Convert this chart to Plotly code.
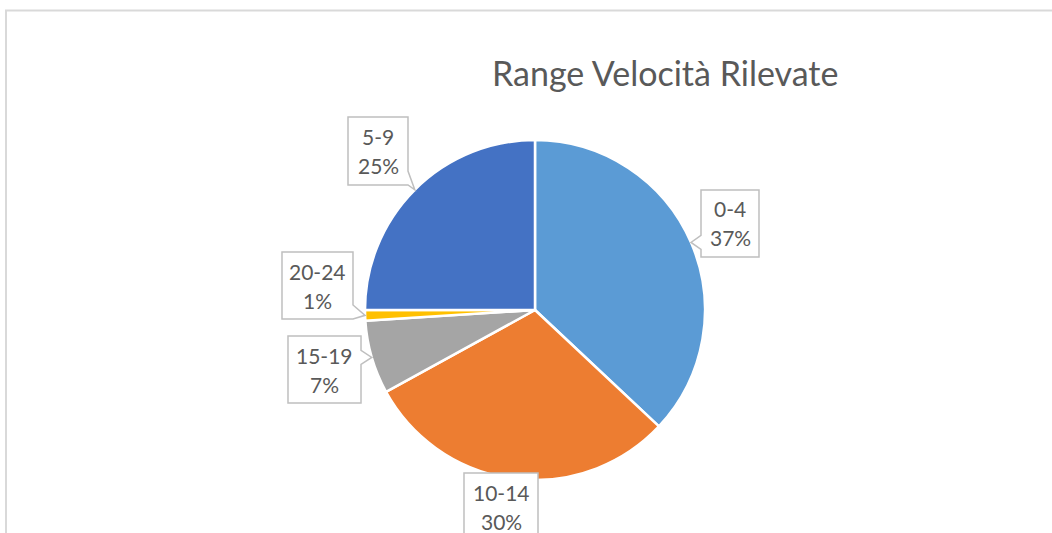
import math
import plotly.graph_objects as go

# Speed ranges and their share of the readings (percent)
categories = ["0-4", "10-14", "15-19", "20-24", "5-9"]
shares = [37, 30, 7, 1, 25]
colors = ["#5B9BD5", "#ED7D31", "#A5A5A5", "#FFC000", "#4472C4"]

title_text = "Range Velocità Rilevate"

W, H = 1052, 533
CX, CY, R = 535, 310, 170  # pie centre / radius in pixels

# callout boxes (pixel rectangles x0, y0, x1, y1) for each category
label_boxes = {
    "0-4": (701, 190, 759, 257),
    "10-14": (464, 473, 538, 541),
    "15-19": (288, 336, 361, 403),
    "20-24": (282, 252, 353, 319),
    "5-9": (348, 117, 408, 185),
}

FONT = "Lato, Open Sans, sans-serif"
TEXT_COLOR = "#595959"


def px(x):
    return x / W


def py(y):
    return 1 - y / H


fig = go.Figure(
    go.Pie(
        labels=categories,
        values=shares,
        sort=False,
        direction="clockwise",
        rotation=0,
        marker=dict(colors=colors, line=dict(color="white", width=2.5)),
        textinfo="none",
        hoverinfo="label+percent",
        domain=dict(x=[px(CX - R), px(CX + R)], y=[py(CY + R), py(CY - R)]),
    )
)


def callout_path(box, tip):
    """Rectangle with a small pointer on the side facing the slice."""
    x0, y0, x1, y1 = box
    tx, ty = tip
    pts = [(x0, y0), (x1, y0)]
    if tx > x1:
        b0 = min(max(ty - 7, y0), y1 - 14)
        b1 = b0 + 14
        pts += [(x1, b0), (tx, ty), (x1, b1)]
    pts.append((x1, y1))
    pts.append((x0, y1))
    if tx < x0:
        b1 = min(max(ty + 7, y0 + 14), y1)
        b0 = b1 - 14
        pts += [(x0, b1), (tx, ty), (x0, b0)]
    return "M " + " L ".join(f"{px(x):.5f},{py(y):.5f}" for x, y in pts) + " Z"


shapes = [
    # chart frame
    dict(type="rect", xref="paper", yref="paper",
         x0=px(6), x1=px(1060), y0=py(560), y1=py(10.5),
         line=dict(color="#D9D9D9", width=2), fillcolor="rgba(0,0,0,0)",
         layer="below"),
]
annotations = [
    dict(text=title_text, x=px(665), y=py(73), xref="paper", yref="paper",
         showarrow=False, xanchor="center", yanchor="middle",
         font=dict(family=FONT, size=34, color=TEXT_COLOR)),
]

total = sum(shares)
cum = 0
for cat, val in zip(categories, shares):
    mid = (cum + val / 2) / total * 2 * math.pi
    cum += val
    tip = (CX + R * math.sin(mid), CY - R * math.cos(mid))
    box = label_boxes[cat]
    shapes.append(dict(type="path", xref="paper", yref="paper",
                       path=callout_path(box, tip),
                       line=dict(color="#BFBFBF", width=1.5),
                       fillcolor="white", layer="above"))
    bx = (box[0] + box[2]) / 2
    by = (box[1] + box[3]) / 2
    pct = round(val / total * 100)
    for text, dy in ((cat, -14.5), (f"{pct}%", 14.5)):
        annotations.append(dict(
            text=text, x=px(bx), y=py(by + dy), xref="paper", yref="paper",
            showarrow=False, xanchor="center", yanchor="middle",
            font=dict(family=FONT, size=21, color=TEXT_COLOR)))

fig.update_layout(
    width=W, height=H,
    margin=dict(l=0, r=0, t=0, b=0),
    paper_bgcolor="white",
    plot_bgcolor="white",
    showlegend=False,
    shapes=shapes,
    annotations=annotations,
)

fig.write_html("out.html")
